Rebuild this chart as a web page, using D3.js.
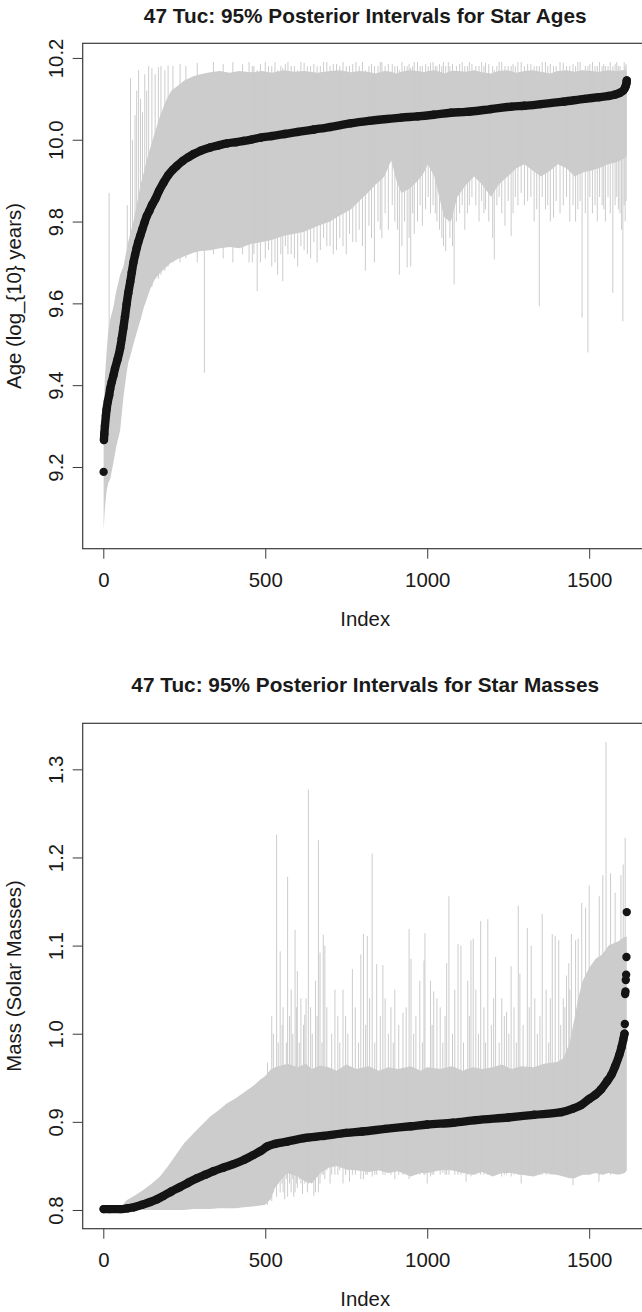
<!DOCTYPE html>
<html>
<head>
<meta charset="utf-8">
<script src="https://cdn.jsdelivr.net/npm/d3@7"></script>
<style>
  html, body { margin: 0; padding: 0; background: #fff; }
  svg { display: block; }
  text { font-family: "Liberation Sans", Arial, Helvetica, sans-serif; fill: #1a1a1a; }
</style>
</head>
<body>
<svg id="chart" width="642" height="1312"></svg>
<script>
// ---------------- DATA ----------------
const nStars = 1616;
const xTicks = [0, 500, 1000, 1500];

// ===== Panel 1: ages (log10 years) =====
const ageTicks = [9.2, 9.4, 9.6, 9.8, 10.0, 10.2];
// posterior medians (sorted stars): index, value
const ageMedIdx = [2,3,5,8,10,14,18,21,26,31,36,44,52,57,62,67,72,77,83,88,93,98,103,108,114,120,127,134,142,150,160,172,186,200,215,227,245,262,279,300,330,355,382,410,433,460,485,520,560,600,650,700,763,820,880,920,970,1020,1073,1120,1197,1260,1300,1351,1420,1486,1530,1560,1578,1595,1605,1610,1613,1615,1616];
const ageMed = [9.266,9.28,9.30,9.325,9.34,9.36,9.375,9.39,9.408,9.423,9.44,9.463,9.49,9.514,9.54,9.568,9.598,9.625,9.652,9.676,9.70,9.718,9.735,9.75,9.765,9.78,9.797,9.813,9.826,9.84,9.854,9.875,9.895,9.913,9.927,9.936,9.948,9.957,9.965,9.973,9.981,9.986,9.991,9.994,9.997,10.001,10.005,10.009,10.014,10.019,10.025,10.031,10.04,10.046,10.051,10.054,10.057,10.061,10.066,10.068,10.075,10.081,10.083,10.087,10.093,10.1,10.104,10.107,10.11,10.115,10.12,10.126,10.132,10.138,10.145];
const ageIsoIdx = [1];
const ageIso = [9.188];
// dense core of the 95% intervals: [index, lower, upper]
const ageCore = [
  [1,9.046,9.33],[5,9.10,9.42],[10,9.14,9.48],[15,9.16,9.53],[21,9.17,9.56],[31,9.21,9.59],[40,9.25,9.63],[52,9.29,9.67],[62,9.37,9.69],[72,9.43,9.73],
  [77,9.455,9.75],[83,9.47,9.77],[93,9.50,9.80],[103,9.528,9.84],[115,9.56,9.89],[125,9.59,9.92],[134,9.61,9.95],[145,9.635,9.98],[160,9.66,10.02],[176,9.675,10.06],
  [196,9.69,10.10],[210,9.70,10.12],[227,9.707,10.13],[250,9.715,10.145],[278,9.724,10.155],[300,9.728,10.16],[330,9.73,10.165],[360,9.735,10.168],[390,9.738,10.164],[420,9.735,10.168],
  [455,9.745,10.165],[490,9.75,10.168],[520,9.755,10.164],[558,9.765,10.17],[590,9.77,10.166],[620,9.775,10.168],[661,9.789,10.164],[700,9.80,10.168],[730,9.815,10.17],[765,9.83,10.165],
  [790,9.85,10.168],[816,9.87,10.166],[840,9.89,10.162],[868,9.91,10.168],[889,9.95,10.166],[905,9.90,10.162],[920,9.87,10.166],[945,9.88,10.17],[971,9.90,10.168],[990,9.92,10.165],
  [1002,9.94,10.168],[1022,9.91,10.17],[1040,9.85,10.166],[1053,9.81,10.162],[1073,9.80,10.168],[1093,9.86,10.168],[1120,9.89,10.166],[1145,9.91,10.17],[1170,9.89,10.165],[1197,9.86,10.162],
  [1220,9.89,10.168],[1248,9.91,10.17],[1275,9.93,10.164],[1300,9.94,10.168],[1325,9.925,10.17],[1351,9.91,10.166],[1380,9.925,10.162],[1403,9.94,10.168],[1430,9.93,10.17],[1455,9.91,10.166],
  [1480,9.92,10.17],[1506,9.925,10.168],[1530,9.93,10.166],[1558,9.94,10.17],[1585,9.945,10.168],[1609,9.955,10.17],[1616,9.96,10.168]
];
// intervals that stick out of the core: [index, lower, upper]
const ageSpikes = [
  [18,9.53,9.87],[74,9.46,9.84],[84,9.50,10.15],[90,9.52,10.0],[98,9.55,10.06],[103,9.56,10.12],[109,9.58,10.17],[115,9.58,10.10],[121,9.60,10.067],[128,9.60,10.16],
  [134,9.62,10.12],[140,9.63,10.18],[150,9.64,10.175],[160,9.66,10.16],[170,9.66,10.177],[178,9.67,10.18],[190,9.68,10.17],[200,9.69,10.182],[215,9.70,10.18],[237,9.70,10.185],
  [255,9.71,10.18],[290,9.70,10.188],[312,9.43,10.15],[340,9.72,10.19],[370,9.71,10.185],[400,9.70,10.19],[430,9.72,10.185],[450,9.70,10.19],[460,9.70,10.18],[465,9.72,10.18],
  [475,9.63,10.17],[485,9.70,10.185],[500,9.71,10.19],[510,9.73,10.18],[520,9.69,10.18],[530,9.70,10.19],[538,9.67,10.17],[548,9.72,10.18],[554,9.654,10.175],[562,9.74,10.185],
  [570,9.72,10.19],[580,9.72,10.18],[590,9.71,10.18],[600,9.69,10.17],[610,9.74,10.19],[620,9.73,10.188],[630,9.72,10.18],[640,9.71,10.18],[650,9.75,10.185],[660,9.70,10.18],
  [670,9.73,10.18],[680,9.76,10.19],[690,9.74,10.19],[700,9.74,10.18],[710,9.72,10.185],[720,9.73,10.185],[730,9.76,10.18],[740,9.74,10.19],[750,9.72,10.18],[760,9.77,10.18],
  [770,9.75,10.185],[780,9.75,10.19],[790,9.78,10.18],[800,9.74,10.19],[809,9.68,10.17],[820,9.79,10.18],[828,9.76,10.185],[837,9.70,10.18],[848,9.80,10.18],[855,9.78,10.19],
  [860,9.76,10.19],[870,9.82,10.18],[880,9.78,10.185],[892,9.84,10.185],[900,9.80,10.18],[908,9.78,10.18],[914,9.67,10.17],[922,9.74,10.19],[930,9.80,10.18],[938,9.688,10.18],
  [944,9.76,10.185],[949,9.69,10.175],[955,9.82,10.18],[960,9.77,10.19],[970,9.80,10.19],[978,9.84,10.18],[985,9.79,10.18],[995,9.83,10.185],[1003,9.86,10.18],[1010,9.82,10.188],
  [1018,9.84,10.19],[1025,9.82,10.18],[1030,9.80,10.18],[1038,9.78,10.185],[1045,9.76,10.18],[1050,9.74,10.19],[1057,9.728,10.18],[1065,9.80,10.19],[1070,9.76,10.18],[1078,9.74,10.185],
  [1083,9.646,10.17],[1090,9.80,10.18],[1100,9.82,10.185],[1108,9.84,10.19],[1116,9.78,10.18],[1124,9.82,10.18],[1130,9.84,10.19],[1138,9.86,10.185],[1150,9.84,10.18],[1160,9.80,10.18],
  [1168,9.85,10.19],[1175,9.82,10.18],[1180,9.83,10.188],[1190,9.80,10.185],[1202,9.76,10.18],[1207,9.707,10.17],[1215,9.84,10.18],[1222,9.86,10.19],[1230,9.82,10.19],[1240,9.79,10.18],
  [1250,9.85,10.18],[1259,9.765,10.18],[1265,9.82,10.185],[1272,9.86,10.18],[1280,9.84,10.19],[1290,9.87,10.19],[1300,9.84,10.18],[1310,9.85,10.185],[1320,9.86,10.185],[1330,9.80,10.18],
  [1338,9.83,10.18],[1346,9.593,10.18],[1355,9.86,10.19],[1365,9.83,10.19],[1372,9.84,10.18],[1380,9.80,10.185],[1390,9.81,10.18],[1398,9.85,10.18],[1410,9.82,10.19],[1420,9.84,10.188],
  [1430,9.86,10.18],[1440,9.80,10.18],[1450,9.84,10.185],[1458,9.80,10.18],[1465,9.83,10.19],[1472,9.85,10.19],[1478,9.565,10.17],[1488,9.82,10.18],[1496,9.48,10.18],[1502,9.86,10.185],
  [1510,9.82,10.19],[1518,9.84,10.18],[1525,9.80,10.18],[1532,9.86,10.19],[1540,9.84,10.18],[1545,9.83,10.185],[1550,9.80,10.18],[1558,9.86,10.18],[1565,9.82,10.19],[1573,9.626,10.18],
  [1580,9.84,10.185],[1585,9.86,10.19],[1590,9.83,10.18],[1595,9.82,10.18],[1600,9.78,10.17],[1604,9.556,10.17],[1608,9.84,10.19],[1611,9.80,10.18],[1614,9.85,10.185]
];

// ===== Panel 2: masses (solar masses) =====
const massTicks = [0.8, 0.9, 1.0, 1.1, 1.2, 1.3];
const massMedIdx = [1,20,52,75,93,120,145,165,186,210,237,262,289,315,340,370,402,435,464,486,506,530,568,619,680,750,800,870,950,1000,1080,1150,1250,1330,1414,1450,1475,1500,1520,1537,1555,1568,1580,1593,1600,1605,1609];
const massMed = [0.801,0.801,0.801,0.802,0.803,0.806,0.809,0.812,0.816,0.821,0.826,0.831,0.836,0.840,0.844,0.848,0.852,0.857,0.8625,0.867,0.872,0.875,0.8776,0.8815,0.884,0.8875,0.889,0.892,0.895,0.897,0.899,0.902,0.905,0.908,0.911,0.915,0.919,0.926,0.931,0.937,0.946,0.953,0.963,0.976,0.985,0.993,1.0];
const massIsoIdx = [1610,1611,1612,1613,1614,1615,1616];
const massIso = [1.011,1.045,1.048,1.061,1.067,1.087,1.138];
const massCore = [
  [1,0.800,0.801],[52,0.800,0.802],[72,0.800,0.811],[100,0.800,0.817],[124,0.800,0.823],[150,0.800,0.830],[175,0.800,0.838],[200,0.800,0.850],[227,0.800,0.864],[250,0.800,0.876],
  [279,0.801,0.887],[300,0.801,0.895],[330,0.801,0.906],[355,0.802,0.913],[382,0.802,0.921],[410,0.802,0.927],[433,0.803,0.933],[460,0.804,0.940],[485,0.805,0.948],[500,0.806,0.952],
  [516,0.812,0.959],[530,0.825,0.962],[550,0.835,0.964],[568,0.842,0.966],[600,0.838,0.962],[625,0.832,0.966],[644,0.83,0.96],[670,0.842,0.964],[695,0.848,0.962],[720,0.85,0.958],
  [750,0.846,0.965],[780,0.845,0.96],[820,0.843,0.963],[850,0.845,0.958],[880,0.842,0.962],[910,0.844,0.96],[949,0.838,0.963],[980,0.842,0.958],[1000,0.842,0.962],[1040,0.845,0.96],
  [1076,0.845,0.963],[1110,0.842,0.958],[1140,0.84,0.962],[1170,0.843,0.96],[1202,0.838,0.962],[1230,0.842,0.965],[1260,0.842,0.96],[1290,0.84,0.963],[1329,0.838,0.962],[1360,0.842,0.966],
  [1400,0.84,0.968],[1420,0.838,0.972],[1440,0.836,0.99],[1456,0.836,1.02],[1466,0.838,1.04],[1480,0.84,1.06],[1500,0.84,1.075],[1520,0.842,1.085],[1540,0.84,1.09],[1560,0.842,1.10],
  [1590,0.84,1.105],[1610,0.842,1.11],[1616,0.845,1.11]
];
const massSpikes = [
  [507,0.806,0.967],[520,0.81,1.02],[525,0.82,1.00],[535,0.815,1.226],[540,0.83,0.99],[546,0.82,1.0935],[552,0.83,1.01],[555,0.82,1.03],[560,0.812,0.95],[565,0.835,0.99],
  [569,0.815,1.178],[575,0.83,1.02],[580,0.82,1.05],[585,0.835,1.00],[588,0.815,0.96],[592,0.82,1.118],[596,0.83,1.03],[599,0.825,1.071],[605,0.835,0.99],[610,0.83,1.04],
  [615,0.818,0.955],[618,0.84,1.01],[622,0.83,1.0216],[626,0.835,1.04],[630,0.82,0.96],[633,0.83,1.277],[640,0.835,1.03],[645,0.84,1.00],[650,0.816,0.96],[655,0.82,1.06],
  [660,0.84,1.02],[664,0.82,1.2197],[669,0.83,1.092],[675,0.84,0.99],[679,0.84,1.1125],[684,0.835,1.10],[690,0.845,1.03],[700,0.83,0.96],[705,0.84,1.00],[715,0.84,1.05],
  [724,0.84,1.02],[730,0.845,0.99],[740,0.83,1.05],[748,0.84,1.02],[755,0.845,1.00],[760,0.832,0.96],[769,0.84,1.0735],[778,0.84,1.03],[788,0.845,0.99],[795,0.835,1.09],
  [803,0.835,1.113],[810,0.84,1.01],[815,0.84,1.111],[822,0.845,1.04],[830,0.838,1.2045],[838,0.84,0.99],[844,0.84,1.079],[855,0.845,1.02],[863,0.84,1.078],[870,0.84,1.04],
  [880,0.842,1.00],[888,0.84,1.03],[895,0.845,0.99],[900,0.835,1.05],[912,0.84,1.01],[925,0.84,1.024],[935,0.845,1.03],[944,0.835,1.119],[950,0.84,1.085],[958,0.842,1.00],
  [965,0.84,1.02],[977,0.84,1.06],[985,0.845,0.99],[990,0.84,1.083],[993,0.84,1.114],[1000,0.83,0.96],[1010,0.838,1.06],[1015,0.84,1.01],[1020,0.84,1.048],[1030,0.845,1.04],
  [1040,0.84,1.03],[1048,0.842,0.99],[1055,0.84,1.02],[1060,0.84,1.08],[1067,0.84,1.156],[1078,0.845,1.00],[1085,0.84,1.05],[1095,0.84,1.102],[1104,0.84,1.10],[1112,0.845,0.99],
  [1120,0.832,0.96],[1125,0.84,1.06],[1130,0.842,1.02],[1135,0.838,1.106],[1142,0.84,1.108],[1150,0.84,1.05],[1158,0.845,1.00],[1165,0.84,1.128],[1175,0.84,1.03],[1180,0.842,0.99],
  [1187,0.84,1.130],[1198,0.845,1.01],[1205,0.84,1.04],[1211,0.84,1.087],[1222,0.842,0.99],[1230,0.838,1.04],[1238,0.84,1.02],[1245,0.84,1.025],[1252,0.845,1.00],[1259,0.838,1.0765],
  [1268,0.84,1.03],[1275,0.842,0.99],[1281,0.84,1.1455],[1286,0.84,1.068],[1290,0.83,0.96],[1296,0.845,1.01],[1309,0.84,1.12],[1315,0.84,1.03],[1321,0.842,1.10],[1332,0.84,1.04],
  [1340,0.845,1.00],[1348,0.84,1.02],[1355,0.84,1.136],[1367,0.84,1.05],[1375,0.842,0.99],[1380,0.84,1.04],[1386,0.84,1.113],[1395,0.84,1.111],[1406,0.84,1.106],[1412,0.845,1.01],
  [1420,0.84,1.04],[1425,0.842,1.03],[1430,0.84,1.066],[1437,0.84,1.08],[1440,0.842,1.05],[1445,0.84,1.113],[1450,0.828,0.98],[1458,0.84,1.106],[1466,0.84,1.108],[1477,0.84,1.1485],
  [1489,0.84,1.143],[1500,0.84,1.168],[1530,0.832,1.0],[1531,0.84,1.156],[1542,0.84,1.18],[1552,0.845,1.331],[1566,0.84,1.182],[1580,0.845,1.16],[1598,0.845,1.18],[1605,0.845,1.192],
  [1611,0.85,1.2224]
];

// ---------------- DRAWING ----------------
const svg = d3.select("#chart");
const GRAY = "#cccccc", DOT = "#141414", AXIS = "#3a3a3a";
const plotLeft = 82.7, plotRight = 647.7;
const dotR = 4.2;
const axisFont = "20.4px";

function drawPanel(p) {
  const g = svg.append("g");
  const xPad = 0.04 * (nStars - 1);
  const x = d3.scaleLinear().domain([1 - xPad, nStars + xPad]).range([plotLeft, plotRight]);
  const core = p.core.filter(d => d.length === 3);
  const spikes = p.spikes.filter(d => d.length === 3);
  const lo = d3.min(core.concat(spikes), d => d[1]);
  const hi = d3.max(core.concat(spikes), d => d[2]);
  const yPad = 0.04 * (hi - lo);
  const y = d3.scaleLinear().domain([lo - yPad, hi + yPad]).range([p.bottom, p.top]);

  // gray 95% interval core (envelope of the per-star vertical segments)
  g.append("path").datum(core)
    .attr("fill", GRAY)
    .attr("d", d3.area().x(d => x(d[0])).y0(d => y(d[1])).y1(d => y(d[2])));

  // individual interval segments that stick out of the core
  g.append("g").selectAll("line").data(spikes).join("line")
    .attr("x1", d => x(d[0])).attr("x2", d => x(d[0]))
    .attr("y1", d => y(d[1])).attr("y2", d => y(d[2]))
    .attr("stroke", GRAY).attr("stroke-width", 1);

  // posterior medians: dense run of dots
  const med = p.medIdx.map((d, i) => ({i: d, v: p.med[i]}));
  g.append("path").datum(med)
    .attr("fill", "none").attr("stroke", DOT)
    .attr("stroke-width", 2 * dotR).attr("stroke-linecap", "round").attr("stroke-linejoin", "round")
    .attr("d", d3.line().curve(d3.curveMonotoneX).x(d => x(d.i)).y(d => y(d.v)));
  const allDots = med.concat(p.isoIdx.map((d, i) => ({i: d, v: p.iso[i]})));
  g.append("g").selectAll("circle").data(allDots).join("circle")
    .attr("cx", d => x(d.i)).attr("cy", d => y(d.v)).attr("r", dotR).attr("fill", DOT);

  // x axis
  const xa = g.append("g").attr("transform", `translate(0,${p.bottom})`)
    .call(d3.axisBottom(x).tickValues(xTicks).tickSize(10).tickFormat(d3.format("d")));
  xa.select(".domain").remove();
  xa.selectAll(".tick line").attr("stroke", AXIS);
  xa.selectAll(".tick text").attr("y", p.xLabOff).attr("dy", null)
    .style("font-size", axisFont).style("fill", "#1a1a1a");

  // y axis (labels parallel to the axis)
  const ya = g.append("g").attr("transform", `translate(${plotLeft},0)`)
    .call(d3.axisLeft(y).tickValues(p.yTicks).tickSize(10).tickFormat(d3.format(".1f")));
  ya.select(".domain").remove();
  ya.selectAll(".tick line").attr("stroke", AXIS);
  ya.selectAll(".tick text")
    .attr("dy", null)
    .attr("transform", "rotate(-90)")
    .attr("x", 0).attr("y", -(plotLeft - 62.5))
    .attr("text-anchor", "middle")
    .style("font-size", axisFont).style("fill", "#1a1a1a");

  // box
  g.append("rect").attr("x", plotLeft).attr("y", p.top)
    .attr("width", plotRight - plotLeft).attr("height", p.bottom - p.top)
    .attr("fill", "none").attr("stroke", AXIS).attr("stroke-width", 1.2);

  // titles
  g.append("text").attr("x", (plotLeft + plotRight) / 2).attr("y", p.titleY)
    .attr("text-anchor", "middle").style("font-size", "20.8px").style("font-weight", "bold")
    .text(p.title);
  g.append("text").attr("x", (plotLeft + plotRight) / 2).attr("y", p.bottom + p.xTitleOff)
    .attr("text-anchor", "middle").style("font-size", axisFont).text("Index");
  g.append("text")
    .attr("transform", `translate(21,${(p.top + p.bottom) / 2}) rotate(-90)`)
    .attr("text-anchor", "middle")
    .style("font-size", axisFont).text(p.ylab);
}

drawPanel({
  top: 43.3, bottom: 548.7, titleY: 22.7, xLabOff: 38.6, xTitleOff: 77.6,
  title: "47 Tuc: 95% Posterior Intervals for Star Ages",
  ylab: "Age (log_{10} years)", yTicks: ageTicks,
  medIdx: ageMedIdx, med: ageMed, isoIdx: ageIsoIdx, iso: ageIso,
  core: ageCore, spikes: ageSpikes
});
drawPanel({
  top: 723.3, bottom: 1228.7, titleY: 691.7, xLabOff: 38.2, xTitleOff: 77,
  title: "47 Tuc: 95% Posterior Intervals for Star Masses",
  ylab: "Mass (Solar Masses)", yTicks: massTicks,
  medIdx: massMedIdx, med: massMed, isoIdx: massIsoIdx, iso: massIso,
  core: massCore, spikes: massSpikes
});
</script>
</body>
</html>
